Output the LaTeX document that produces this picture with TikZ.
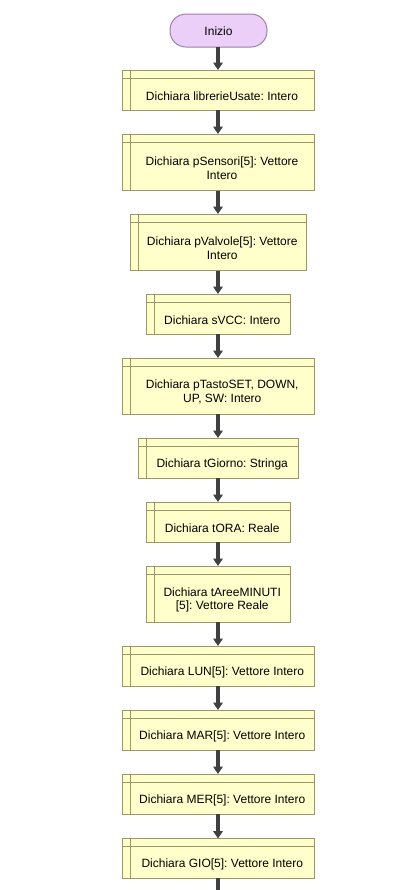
\documentclass[tikz,border=0pt]{standalone}
\usepackage{fontspec}
\setmainfont{Liberation Sans}
\usetikzlibrary{arrows.meta,calc}
\definecolor{termfill}{HTML}{EBCFF8}
\definecolor{termdraw}{HTML}{9E80A8}
\definecolor{boxfill}{HTML}{FFFFCC}
\definecolor{boxdraw}{HTML}{9C9862}
\definecolor{arr}{HTML}{404040}
\frenchspacing
\begin{document}
\begin{tikzpicture}[x=0.75pt,y=-0.75pt,
  term/.style={draw=termdraw,fill=termfill,rounded corners=12pt,line width=0.75pt,inner sep=0pt},
  decl/.style={draw=boxdraw,fill=boxfill,line width=0.75pt,inner sep=0pt},
  txt/.style={font=\fontsize{9}{10.2}\selectfont,align=center,inner sep=0pt},
  flow/.style={draw=arr,line width=2.4pt,-{Triangle[width=7pt,length=5.5pt]}}]
\useasboundingbox (0,0) rectangle (400,890);
% terminal
\path[term] (170,14) rectangle (267,47);
\node[txt] (t0) at (218.5,31) {Inizio};
\coordinate (t0b) at (218,47);
% declaration boxes: name, x1, y1, x2, y2, text
\def\declbox#1#2#3#4#5#6{%
  \path[decl] (#2,#3) rectangle (#4,#5);
  \draw[boxdraw,line width=0.75pt] ($(#2,#3)+(8,0)$) -- ($(#2,#5)+(8,0)$);
  \draw[boxdraw,line width=0.75pt] ($(#2,#3)+(0,8)$) -- ($(#4,#3)+(0,8)$);
  \coordinate (#1t) at (218,#3);
  \coordinate (#1b) at (218,#5);
  \node[txt] (#1) at ({(#2+#4)/2+4},{(#3+8+#5)/2+2}) {#6};
}
\declbox{b1}{122}{70}{314}{110}{Dichiara librerieUsate: Intero}
\declbox{b2}{122}{134}{314}{190.5}{Dichiara pSensori[5]: Vettore\\Intero}
\declbox{b3}{130}{214}{306.5}{270.5}{Dichiara pValvole[5]: Vettore\\Intero}
\declbox{b4}{146}{294}{290.5}{334}{Dichiara sVCC: Intero}
\declbox{b5}{122}{358}{314.5}{414}{Dichiara pTastoSET, DOWN,\\UP, SW: Intero}
\declbox{b6}{138}{438}{298.5}{478}{Dichiara tGiorno: Stringa}
\declbox{b7}{146}{502}{290.5}{542}{Dichiara tORA: Reale}
\declbox{b8}{146}{566}{290.5}{622}{Dichiara tAreeMINUTI\\{[5]}: Vettore Reale}
\declbox{b9}{122}{646}{314.5}{686}{Dichiara LUN[5]: Vettore Intero}
\declbox{b10}{122}{710}{314.5}{750}{Dichiara MAR[5]: Vettore Intero}
\declbox{b11}{122}{774}{314.5}{814}{Dichiara MER[5]: Vettore Intero}
\declbox{b12}{122}{838.5}{314.5}{878}{Dichiara GIO[5]: Vettore Intero}
\coordinate (endc) at (218,891);
% connectors
\draw[flow] (t0b) -- (b1t);
\draw[flow] (b1b) -- (b2t);
\draw[flow] (b2b) -- (b3t);
\draw[flow] (b3b) -- (b4t);
\draw[flow] (b4b) -- (b5t);
\draw[flow] (b5b) -- (b6t);
\draw[flow] (b6b) -- (b7t);
\draw[flow] (b7b) -- (b8t);
\draw[flow] (b8b) -- (b9t);
\draw[flow] (b9b) -- (b10t);
\draw[flow] (b10b) -- (b11t);
\draw[flow] (b11b) -- (b12t);
\draw[draw=arr,line width=2.4pt] (b12b) -- (endc);
\end{tikzpicture}
\end{document}
